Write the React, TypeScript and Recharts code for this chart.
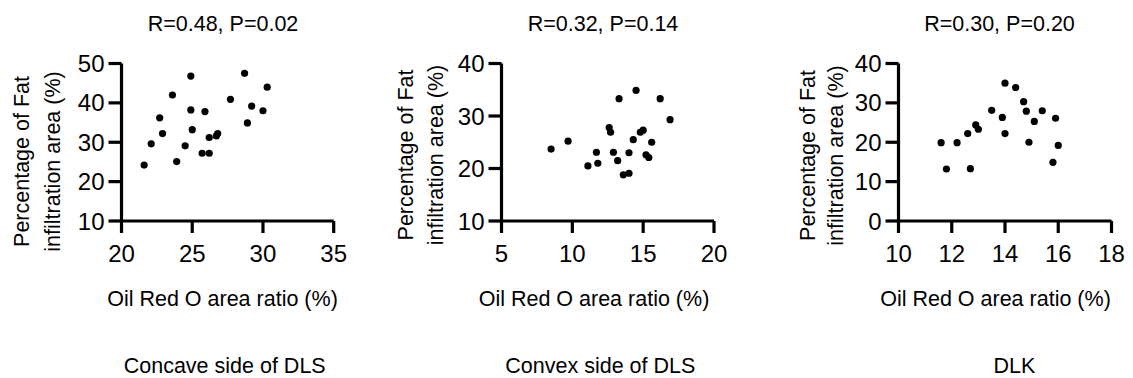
import { Scatter, ScatterChart, XAxis, YAxis } from "recharts"

const FONT = "'Liberation Sans', Arial, Helvetica, sans-serif"
const W = 1133
const H = 378

// Concave side of DLS
const concaveOilRed = [21.6, 22.1, 22.7, 22.9, 23.6, 23.9, 24.5, 24.9, 24.9, 25.0, 25.7, 25.9, 26.2, 26.2, 26.7, 26.8, 27.7, 28.7, 28.9, 29.2, 30.0, 30.3]
const concaveFat = [24.2, 29.6, 36.2, 32.2, 42.0, 25.1, 29.1, 46.8, 38.2, 33.2, 27.2, 37.8, 27.2, 31.2, 31.6, 32.2, 40.9, 47.5, 34.9, 39.2, 38.0, 44.0]

// Convex side of DLS
const convexOilRed = [8.5, 9.7, 11.1, 11.7, 11.8, 12.6, 12.7, 12.9, 13.2, 13.3, 13.6, 14.0, 14.0, 14.3, 14.5, 14.8, 15.0, 15.2, 15.4, 15.6, 16.2, 16.9]
const convexFat = [23.7, 25.2, 20.5, 23.1, 21.0, 27.8, 26.9, 23.1, 21.5, 33.3, 18.8, 19.1, 23.0, 25.5, 34.9, 26.9, 27.3, 22.6, 22.1, 25.0, 33.3, 29.3]

// DLK
const dlkOilRed = [11.6, 11.8, 12.2, 12.6, 12.7, 12.9, 13.0, 13.5, 13.9, 14.0, 14.0, 14.4, 14.7, 14.8, 14.9, 15.1, 15.4, 15.8, 15.9, 16.0]
const dlkFat = [19.9, 13.2, 19.9, 22.2, 13.3, 24.4, 23.3, 28.1, 26.3, 35.0, 22.2, 33.9, 30.3, 27.9, 20.0, 25.3, 28.0, 14.9, 26.1, 19.2]

const titles = ["R=0.48, P=0.02", "R=0.32, P=0.14", "R=0.30, P=0.20"]
const groups = ["Concave side of DLS", "Convex side of DLS", "DLK"]
const xTicks = [[20, 25, 30, 35], [5, 10, 15, 20], [10, 12, 14, 16, 18]]
const yTicks = [[10, 20, 30, 40, 50], [10, 20, 30, 40], [0, 10, 20, 30, 40]]
const X_LABEL = "Oil Red O area ratio (%)"
const Y_LABEL_1 = "Percentage of Fat"
const Y_LABEL_2 = "infiltration area (%)"

const toPoints = (xs: number[], ys: number[]) => xs.map((x, i) => ({ x, y: ys[i] }))

const panels = [
  {
    data: toPoints(concaveOilRed, concaveFat),
    plotLeft: 121.5, plotRight: 333.7,
    titleX: 223, yLab1: 29, yLab2: 59.5, yLabY: 161.5, xLabX: 222.5, groupX: 224.7,
  },
  {
    data: toPoints(convexOilRed, convexFat),
    plotLeft: 501.5, plotRight: 714,
    titleX: 603, yLab1: 413.3, yLab2: 443.3, yLabY: 155, xLabX: 594, groupX: 600.3,
  },
  {
    data: toPoints(dlkOilRed, dlkFat),
    plotLeft: 898.5, plotRight: 1111.5,
    titleX: 999.5, yLab1: 815, yLab2: 843.3, yLabY: 155.5, xLabX: 995.5, groupX: 1014.5,
  },
]

const PLOT_TOP = 63.5
const PLOT_BOTTOM = 221
const Y_AXIS_W = 60
const X_AXIS_H = 40

// titles and axis captions, drawn in page coordinates
function PanelText({ i }: { i: number }) {
  const p = panels[i]
  return (
    <g fontFamily={FONT} fontSize={21.5} fill="#000">
      <text x={p.titleX} y={30.5} textAnchor="middle">{titles[i]}</text>
      <text transform={`translate(${p.yLab1}, ${p.yLabY}) rotate(-90)`} textAnchor="middle">{Y_LABEL_1}</text>
      <text transform={`translate(${p.yLab2}, ${p.yLabY}) rotate(-90)`} textAnchor="middle">{Y_LABEL_2}</text>
      <text x={p.xLabX} y={306} textAnchor="middle">{X_LABEL}</text>
      <text x={p.groupX} y={372.5} textAnchor="middle">{groups[i]}</text>
    </g>
  )
}

const Dot = (props: any) => <circle cx={props.cx} cy={props.cy} r={3.6} fill="#000" />

export default function App() {
  const axisStyle = { stroke: "#000", strokeWidth: 3.2 }
  const tickStyle = { fill: "#000", fontSize: 24, fontFamily: FONT }

  return (
    <div style={{ position: "absolute", left: 0, top: 0, width: W, height: H, background: "#fff" }}>
      {panels.map((p, i) => {
        const xs = xTicks[i]
        const ys = yTicks[i]
        return (
          <div key={i} style={{ position: "absolute", left: 0, top: 0 }}>
            <ScatterChart
              width={W}
              height={H}
              margin={{
                top: PLOT_TOP,
                right: W - p.plotRight,
                bottom: H - PLOT_BOTTOM - X_AXIS_H,
                left: p.plotLeft - Y_AXIS_W,
              }}
            >
              <XAxis
                type="number"
                dataKey="x"
                domain={[xs[0], xs[xs.length - 1]]}
                ticks={xs}
                interval={0}
                height={X_AXIS_H}
                axisLine={axisStyle}
                tickLine={axisStyle}
                tickSize={12}
                tickMargin={12}
                tick={tickStyle}
              />
              <YAxis
                type="number"
                dataKey="y"
                domain={[ys[0], ys[ys.length - 1]]}
                ticks={ys}
                interval={0}
                width={Y_AXIS_W}
                axisLine={axisStyle}
                tickLine={axisStyle}
                tickSize={13}
                tickMargin={4}
                tick={tickStyle}
                label={<PanelText i={i} />}
              />
              <Scatter data={p.data} shape={Dot} isAnimationActive={false} />
            </ScatterChart>
          </div>
        )
      })}
    </div>
  )
}
